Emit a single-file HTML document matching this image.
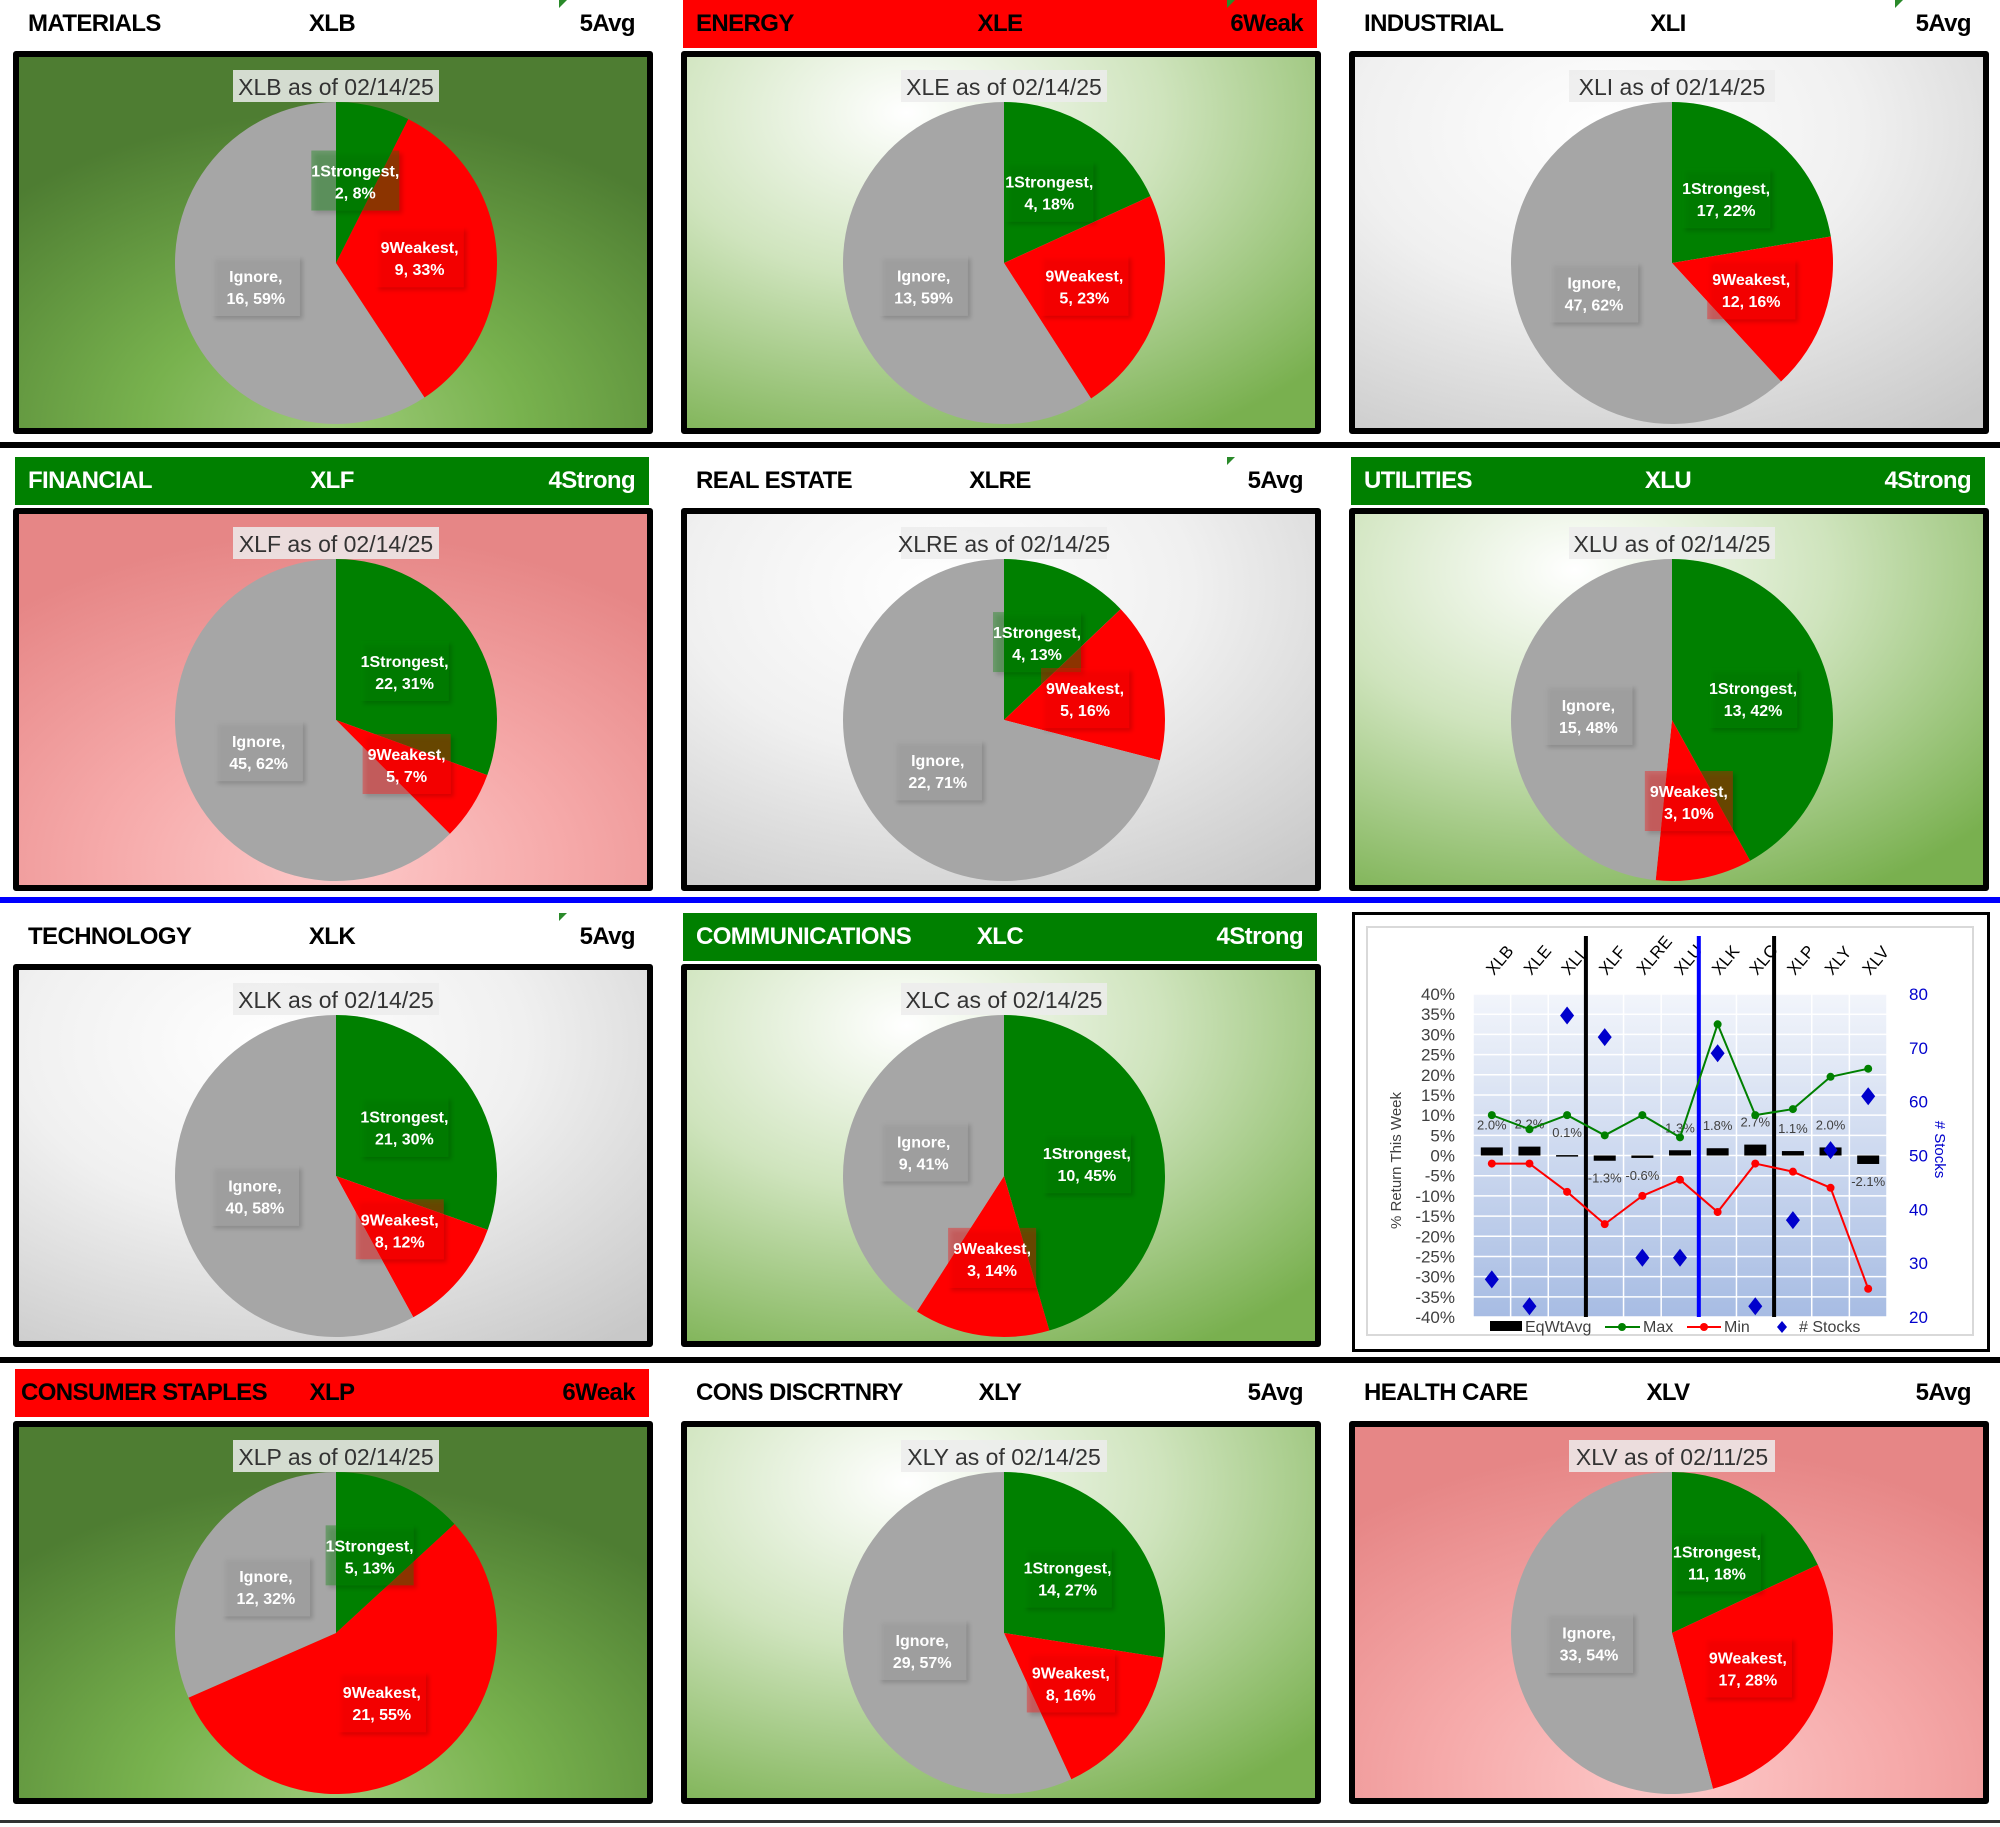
<!DOCTYPE html>
<html><head><meta charset="utf-8">
<style>
html,body{margin:0;padding:0;background:#fff;}
body{width:2000px;height:1827px;position:relative;overflow:hidden;font-family:"Liberation Sans Narrow","Liberation Sans",sans-serif;}
.hdr{position:absolute;height:48px;font-weight:bold;font-size:24px;letter-spacing:-0.6px;line-height:48px;}
.hdr span{position:absolute;top:0;}
.box{position:absolute;width:628px;height:371px;border:6px solid #000;border-radius:3px;overflow:hidden;}
.sep{position:absolute;left:0;width:2000px;}
.tri{position:absolute;top:0;width:0;height:0;border-top:8px solid #2a8a2a;border-right:8px solid transparent;}
</style></head>
<body>
<div class="sep" style="top:442px;height:6px;background:#000"></div>
<div class="sep" style="top:897px;height:6px;background:#0000ff"></div>
<div class="sep" style="top:1357px;height:6px;background:#000"></div>
<div class="sep" style="top:1820px;height:3px;background:#333"></div>
<div id="root"></div>
<script>
const sectors=["MATERIALS","ENERGY","INDUSTRIAL","FINANCIAL","REAL ESTATE","UTILITIES","TECHNOLOGY","COMMUNICATIONS","","CONSUMER STAPLES","CONS DISCRTNRY","HEALTH CARE"];
const tickers=["XLB","XLE","XLI","XLF","XLRE","XLU","XLK","XLC","","XLP","XLY","XLV"];
const ratings=["5Avg","6Weak","5Avg","4Strong","5Avg","4Strong","5Avg","4Strong","","6Weak","5Avg","5Avg"];
const strongest=[2,4,17,22,4,13,21,10,0,5,14,11];
const weakest=[9,5,12,5,5,3,8,3,0,21,8,17];
const ignore=[16,13,47,45,22,15,40,9,0,12,29,33];
const strongPct=[8,18,22,31,13,42,30,45,0,13,27,18];
const weakPct=[33,23,16,7,16,10,12,14,0,55,16,28];
const ignorePct=[59,59,62,62,71,48,58,41,0,32,57,54];
const dates=["02/14/25","02/14/25","02/14/25","02/14/25","02/14/25","02/14/25","02/14/25","02/14/25","","02/14/25","02/14/25","02/11/25"];
const bgs=["dg","lg","gr","pk","gr","lg","gr","lg","","dg","lg","pk"];
const tris=[1,1,1,0,1,0,1,0,0,0,0,0];
const BG={
 dg:"radial-gradient(ellipse 75% 85% at 50% 100%, #9dcb78 0%, #78b24e 40%, #4e7d32 100%)",
 lg:"radial-gradient(ellipse 90% 100% at 35% 15%, #ffffff 0%, #cfe4bd 45%, #79b04f 100%)",
 gr:"radial-gradient(ellipse 90% 100% at 40% 20%, #ffffff 0%, #f0f0f0 45%, #c8c8c8 100%)",
 pk:"radial-gradient(ellipse 80% 90% at 50% 95%, #fdc9c9 0%, #f6aaaa 45%, #e68686 100%)"
};
const colX=[13,681,1349], rowHdr=[0,457,913,1369], rowBox=[51,508,964,1421];
const root=document.getElementById('root');
const NS="http://www.w3.org/2000/svg";
function pt(cx,cy,r,f){const a=f*2*Math.PI;return [cx+r*Math.sin(a),cy-r*Math.cos(a)];}
for(let i=0;i<12;i++){
 if(i===8) continue;
 const c=i%3,r=Math.floor(i/3),x=colX[c];
 const h=document.createElement('div');
 h.className='hdr';
 
 
 let bgc='transparent',fg='#000';
 if(ratings[i]==='6Weak'){bgc='#ff0000';fg='#000';}
 if(ratings[i]==='4Strong'){bgc='#008000';fg='#fff';}
 h.style.cssText=`left:${x+2}px;top:${rowHdr[r]}px;width:634px;background:${bgc};color:${fg}`;
 h.innerHTML=`<span style="left:${i===9?6:13}px">${sectors[i]}</span><span style="left:0;width:634px;text-align:center;">${tickers[i]}</span><span style="right:14px">${ratings[i]}</span>`;
 root.appendChild(h);
 if(tris[i]){const t=document.createElement('div');t.className='tri';t.style.left=(x+546)+'px';t.style.top=rowHdr[r]+'px';
 
 
 root.appendChild(t);}
 const b=document.createElement('div');
 b.className='box';
 
 
 b.style.cssText=`left:${x}px;top:${rowBox[r]}px;background:${BG[bgs[i]]}`;
 const svg=document.createElementNS(NS,'svg');
 svg.setAttribute('width','628');svg.setAttribute('height','371');
 const cx=317,cy=206,R=161;
 const vals=[strongest[i],weakest[i],ignore[i]],tot=vals[0]+vals[1]+vals[2];
 const pcts=[strongPct[i],weakPct[i],ignorePct[i]];
 const cols=['#008000','#ff0000','#a6a6a6'],names=['1Strongest','9Weakest','Ignore'];
 let html=`<defs><filter id="sh${i}" x="-20%" y="-20%" width="150%" height="150%"><feDropShadow dx="3" dy="3" stdDeviation="2" flood-opacity="0.45"/></filter></defs>`;
 html+=`<rect x="${cx-103}" y="13" width="206" height="32" fill="#ececec" fill-opacity="0.85"/><text x="${cx}" y="38" text-anchor="middle" font-size="23" fill="#333" font-family="Liberation Sans Narrow, Liberation Sans, sans-serif">${tickers[i]} as of ${dates[i]}</text>`;
 let acc=0;const labs=[];
 for(let k=0;k<3;k++){
  const f0=acc/tot,f1=(acc+vals[k])/tot;acc+=vals[k];
  const p0=pt(cx,cy,R,f0),p1=pt(cx,cy,R,f1);
  const large=(f1-f0)>0.5?1:0;
  html+=`<path d="M${cx},${cy}L${p0[0]},${p0[1]}A${R},${R} 0 ${large} 1 ${p1[0]},${p1[1]}Z" fill="${cols[k]}"/>`;
  const m=pt(cx,cy,R*0.52,(f0+f1)/2);
  labs.push([m,k,pcts[k]]);
 }
 for(const [m,k,p] of labs){
  html+=`<rect x="${m[0]-44}" y="${m[1]-31}" width="88" height="60" fill="${cols[k]}" fill-opacity="0.35" filter="url(#sh${i})"/>`;
  html+=`<text x="${m[0]}" y="${m[1]-5}" text-anchor="middle" font-size="16" font-weight="bold" fill="#fff">${names[k]},</text><text x="${m[0]}" y="${m[1]+17}" text-anchor="middle" font-size="16" font-weight="bold" fill="#fff">${vals[k]}, ${p}%</text>`;
 }
 svg.innerHTML=html;b.appendChild(svg);root.appendChild(b);
}
</script>

<div style="position:absolute;left:1352px;top:912px;width:632px;height:434px;border:3px solid #000;background:#fff;">
<svg id="lc" width="632" height="434" style="position:absolute;left:0;top:0"></svg>
</div>
<script>
const cats=["XLB","XLE","XLI","XLF","XLRE","XLU","XLK","XLC","XLP","XLY","XLV"];
const maxVals=[10,6.5,10,5,10,4.5,32.5,10,11.5,19.5,21.5];
const minVals=[-2,-2,-9,-17,-10,-6,-14,-2,-4,-8,-33];
const eqWt=[2.0,2.2,0.1,-1.3,-0.6,1.3,1.8,2.7,1.1,2.0,-2.1];
const stockCounts=[27,22,76,72,31,31,69,22,38,51,61];
const leftTicks=[40,35,30,25,20,15,10,5,0,-5,-10,-15,-20,-25,-30,-35,-40];
const rightTicks=[80,70,60,50,40,30,20];
const sepAfter=[3,6,8];
const sepColors=["#000","#0000ff","#000"];
(function(){
 const svg=document.getElementById('lc');
 const NS="http://www.w3.org/2000/svg";
 const X0=118,X1=532,Y0=79,Y1=402;
 const bw=(X1-X0)/cats.length;
 const xc=i=>X0+bw*(i+0.5);
 const yL=v=>Y0+(40-v)/80*(Y1-Y0);
 const yR=v=>Y0+(80-v)/60*(Y1-Y0);
 let h=`<defs><linearGradient id="pg" x1="0" y1="0" x2="0" y2="1"><stop offset="0" stop-color="#f2f5fb"/><stop offset="1" stop-color="#a7bce3"/></linearGradient></defs>`;
 h+=`<rect x="12" y="12" width="606" height="408" fill="none" stroke="#d9d9d9" stroke-width="2"/>`;
 h+=`<rect x="${X0}" y="${Y0}" width="${X1-X0}" height="${Y1-Y0}" fill="url(#pg)"/>`;
 svg.innerHTML=h;
 function add(tag,attrs,name,text){const e=document.createElementNS(NS,tag);for(const k in attrs)e.setAttribute(k,attrs[k]);
  
  
  if(text!==undefined)e.textContent=text;svg.appendChild(e);return e;}
 leftTicks.forEach(t=>{add('line',{x1:X0,x2:X1,y1:yL(t),y2:yL(t),stroke:'#fff','stroke-width':1.5},'gridline');
  add('text',{x:X0-18,y:yL(t)+6,'text-anchor':'end','font-size':17,fill:'#404040'},'y-tick-label',t+'%');});
 for(let i=0;i<=cats.length;i++)add('line',{x1:X0+bw*i,x2:X0+bw*i,y1:Y0,y2:Y1,stroke:'#fff','stroke-width':1.5},'category-gridline');
 rightTicks.forEach(t=>add('text',{x:X1+22,y:yR(t)+6,'font-size':17,fill:'#0000cc'},'y2-tick-label',t));
 cats.forEach((c,i)=>{const x=xc(i)+2,y=Y0-18;add('text',{x:x,y:y,'font-size':17,fill:'#000',transform:`rotate(-50 ${x} ${y})`},'x-category-label',c);});
 eqWt.forEach((v,i)=>{const y0=yL(0),y1=yL(v);add('rect',{x:xc(i)-11,y:Math.min(y0,y1),width:22,height:Math.max(1.5,Math.abs(y1-y0)),fill:'#000'},'eqwt-bar-'+cats[i].toLowerCase());
  const ly=v>=0?yL(v)-18:yL(v)+22;add('text',{x:xc(i),y:ly,'text-anchor':'middle','font-size':13,fill:'#404040'},'eqwt-value-label',v.toFixed(1)+'%');});
 sepAfter.forEach((s,k)=>add('line',{x1:X0+bw*s,x2:X0+bw*s,y1:Y0-58,y2:Y1,stroke:sepColors[k],'stroke-width':4},'group-separator'));
 add('polyline',{points:maxVals.map((v,i)=>xc(i)+','+yL(v)).join(' '),fill:'none',stroke:'#008000','stroke-width':2},'max-line');
 maxVals.forEach((v,i)=>add('circle',{cx:xc(i),cy:yL(v),r:4,fill:'#008000'},'max-point'));
 add('polyline',{points:minVals.map((v,i)=>xc(i)+','+yL(v)).join(' '),fill:'none',stroke:'#ff0000','stroke-width':2},'min-line');
 minVals.forEach((v,i)=>add('circle',{cx:xc(i),cy:yL(v),r:4,fill:'#ff0000'},'min-point'));
 stockCounts.forEach((v,i)=>{const x=xc(i),y=yR(v);add('polygon',{points:`${x},${y-9} ${x+7},${y} ${x},${y+9} ${x-7},${y}`,fill:'#0000cc'},'stocks-point');});
 add('text',{x:0,y:0,'font-size':15,fill:'#404040','text-anchor':'middle',transform:`translate(46 ${(Y0+Y1)/2+5}) rotate(-90)`},'y-axis-title','% Return This Week');
 add('text',{x:0,y:0,'font-size':15,fill:'#0000cc','text-anchor':'middle',transform:`translate(580 ${(Y0+Y1)/2-6}) rotate(90)`},'y2-axis-title','# Stocks');
 const ly=412;
 add('rect',{x:135,y:ly-6,width:32,height:10,fill:'#000'},'legend-eqwt-swatch');
 add('text',{x:170,y:ly+5,'font-size':16,fill:'#404040'},'legend-eqwt','EqWtAvg');
 add('line',{x1:250,x2:285,y1:ly,y2:ly,stroke:'#008000','stroke-width':2},'legend-max-swatch');
 add('circle',{cx:267,cy:ly,r:4,fill:'#008000'},'legend-max-dot');
 add('text',{x:288,y:ly+5,'font-size':16,fill:'#404040'},'legend-max','Max');
 add('line',{x1:332,x2:366,y1:ly,y2:ly,stroke:'#ff0000','stroke-width':2},'legend-min-swatch');
 add('circle',{cx:349,cy:ly,r:4,fill:'#ff0000'},'legend-min-dot');
 add('text',{x:369,y:ly+5,'font-size':16,fill:'#404040'},'legend-min','Min');
 add('polygon',{points:`427,${ly-6} 432,${ly} 427,${ly+6} 422,${ly}`,fill:'#0000cc'},'legend-stocks-swatch');
 add('text',{x:444,y:ly+5,'font-size':16,fill:'#404040'},'legend-stocks','# Stocks');
})();
</script>
</body></html>
